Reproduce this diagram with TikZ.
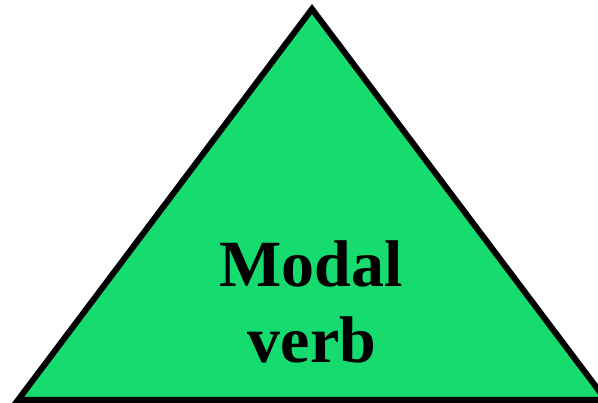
\documentclass[tikz,border=0pt]{standalone}
\usepackage{fontspec}
\setmainfont{Liberation Serif}
\definecolor{trigreen}{RGB}{22,220,111}
\begin{document}
\begin{tikzpicture}[x=1pt,y=-1pt,
  tri/.style={draw=black,fill=trigreen,line width=6pt,line join=miter},
  lbl/.style={anchor=base,inner sep=0pt,font=\bfseries\fontsize{66}{76}\selectfont}]
\useasboundingbox (0,0) rectangle (598,403);
\fill[white] (0,0) rectangle (598,403);
\clip (0,0) rectangle (598,403);
\coordinate (apex) at (312,9);
\coordinate (bl) at (18,400);
\coordinate (br) at (606,400);
\draw[tri] (apex) -- (bl) -- (br) -- cycle;
\node[lbl] (l1) at (311,287) {Modal};
\node[lbl] (l2) at (312,363) {verb};
\end{tikzpicture}
\end{document}
